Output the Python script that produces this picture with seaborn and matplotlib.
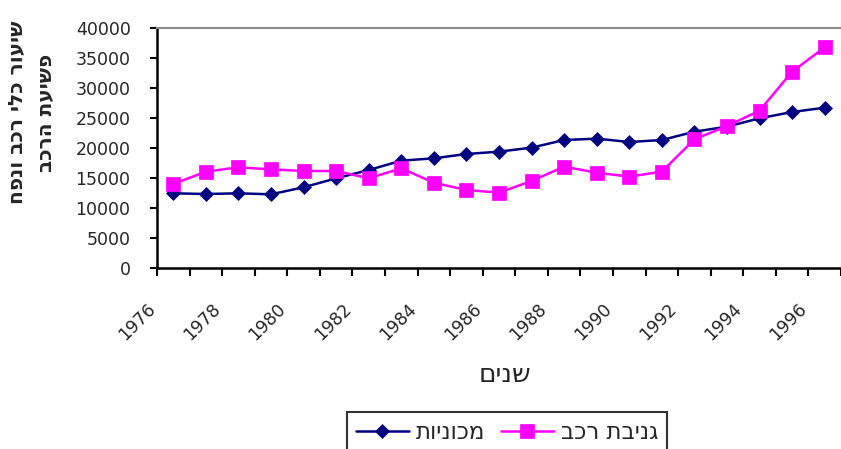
import matplotlib
matplotlib.use('Agg')
import matplotlib.pyplot as plt
import matplotlib.transforms as mtransforms
import pandas as pd
import seaborn as sns

# Data
years = list(range(1976, 1997))
cars = [12450, 12330, 12450, 12280, 13450, 14950, 16330, 17890, 18280, 19000,
        19390, 20060, 21330, 21560, 21000, 21330, 22720, 23560, 24950, 26000, 26720]
theft = [14000, 16060, 16780, 16440, 16170, 16170, 14950, 16610, 14220, 13000,
         12560, 14500, 16890, 15890, 15220, 16060, 21440, 23670, 26220, 32720, 36780]

label_cars = 'מכוניות'
label_theft = 'גניבת רכב'
xlabel = 'שנים'
ylabel_1 = 'שיעור כלי רכב ונפח'
ylabel_2 = 'פשיעת הרכב'


def heb(s):
    # matplotlib has no bidi support, so flip the Hebrew strings by hand
    return s[::-1]


df = pd.DataFrame({'year': years, 'cars': cars, 'theft': theft})

sns.set_style('white')
plt.rcParams['font.family'] = ['DejaVu Sans']

fig = plt.figure(figsize=(8.41, 4.49), dpi=100)
ax = fig.add_axes([157 / 841, 181 / 449, 684 / 841, 240 / 449])

sns.lineplot(data=df, x='year', y='cars', color='#000080', linewidth=1.8,
             marker='D', markersize=7, markeredgecolor='#000080', markeredgewidth=0.5,
             label=heb(label_cars), legend=False, ax=ax, clip_on=False)
sns.lineplot(data=df, x='year', y='theft', color='#FF00FF', linewidth=1.8,
             marker='s', markersize=10, markeredgecolor='#FF00FF', markeredgewidth=0.5,
             label=heb(label_theft), legend=False, ax=ax, clip_on=False)

ax.set_xlim(1975.5, 1975.5 + 684 / 33.05)
ax.set_ylim(0, 40000)
ax.set_yticks(range(0, 40001, 5000))
ax.set_yticklabels([str(v) for v in range(0, 40001, 5000)])

# labels every two years, tick marks between categories
ax.set_xticks(years[::2])
ax.set_xticklabels([str(y) for y in years[::2]], rotation=45, ha='right', va='top')
ax.set_xticks([y + 0.5 for y in range(1975, 1997)], minor=True)
ax.tick_params(axis='x', which='major', bottom=True, length=0, pad=23, labelsize=12.5)
ax.tick_params(axis='x', which='minor', bottom=True, length=6, width=1.5, direction='out', color='black')
ax.tick_params(axis='y', which='major', left=True, length=5, width=1.5, direction='out',
               color='black', labelsize=12.5, pad=14)
offset = mtransforms.ScaledTranslation(-14 / 100, 0, fig.dpi_scale_trans)
for lab in ax.get_xticklabels():
    lab.set_transform(lab.get_transform() + offset)

ax.set_xlabel('')
ax.set_ylabel('')
for side in ['left', 'bottom']:
    ax.spines[side].set_color('black')
    ax.spines[side].set_linewidth(1.8)
ax.spines['top'].set_color('#8c8c8c')
ax.spines['top'].set_linewidth(1.5)
ax.spines['right'].set_visible(False)
ax.grid(False)

fig.text(505 / 841, 1 - 375 / 449, heb(xlabel), ha='center', va='center', fontsize=19)
fig.text(17 / 841, 1 - 112.5 / 449, heb(ylabel_1), rotation=90, ha='center', va='center',
         fontsize=14.5, fontweight='bold')
fig.text(46 / 841, 1 - 112.5 / 449, heb(ylabel_2), rotation=90, ha='center', va='center',
         fontsize=14.5, fontweight='bold')

handles, labels = ax.get_legend_handles_labels()
leg = fig.legend(handles, labels, loc='upper center', bbox_to_anchor=(507 / 841, 1 - 412 / 449),
                 ncol=2, fontsize=16.5, frameon=True, fancybox=False, handlelength=2.3,
                 handletextpad=0.3, columnspacing=0.7, borderpad=0.4, borderaxespad=0)
leg.get_frame().set_edgecolor('black')
leg.get_frame().set_linewidth(1.5)
leg.get_frame().set_facecolor('white')

fig.savefig('out.png', dpi=100)
